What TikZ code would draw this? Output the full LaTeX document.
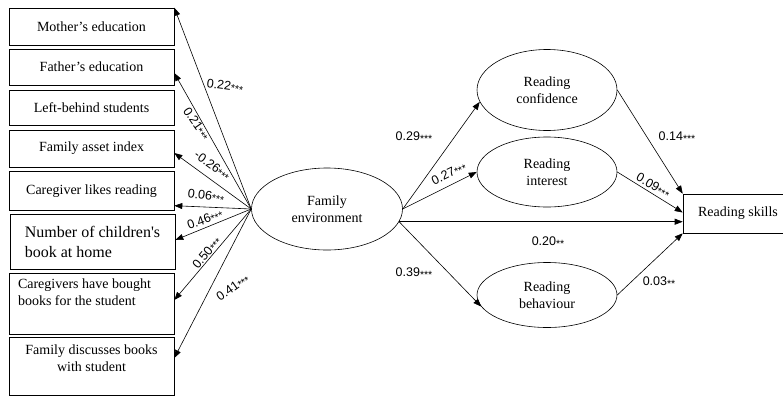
\documentclass[tikz,border=0pt]{standalone}
\usepackage{fontspec}
\setmainfont{Liberation Serif}
\setsansfont{Liberation Sans}
\usetikzlibrary{shapes,arrows.meta}
\newcommand{\sig}[1]{{\fontsize{10.5}{10}\selectfont\raisebox{-1.5pt}{#1}}}

\begin{document}
\begin{tikzpicture}[x=1pt,y=-1pt,>={Triangle[length=8pt,width=6pt]},font=\fontsize{14}{17}\selectfont,line width=0.6pt]
\tikzstyle{var}=[rectangle,draw,inner sep=0pt,minimum width=165pt,align=center]
\tikzstyle{latent}=[ellipse,draw,inner sep=0pt,align=center]
\tikzstyle{coef}=[font=\sffamily\fontsize{12.5}{12}\selectfont,inner sep=0pt]
\useasboundingbox (0,0) rectangle (783,396);

\node[var,minimum height=37pt](mom) at (91.5,26.5) {Mother’s education};
\node[var,minimum height=36pt](dad) at (91.5,67) {Father’s education};
\node[var,minimum height=35pt](left) at (91.5,107.5) {Left-behind students};
\node[var,minimum height=37pt](asset) at (91.5,148.5) {Family asset index};
\node[var,minimum height=39.5pt](cgr) at (91.5,190.7) {Caregiver likes reading};
\node[var,minimum height=55pt,align=left,font=\fontsize{16}{20}\selectfont](books) at (92.5,241.5) {Number of children\textquotesingle s\\book at home};
\node[var,minimum height=61pt,label={[anchor=north west,align=left,inner sep=0pt,xshift=9pt,yshift=-6pt]north west:Caregivers have bought\\books for the student}](bought) at (91.5,303.5) {};
\node[var,minimum height=58pt,label={[anchor=north,align=center,inner sep=0pt,yshift=-8pt]north:Family discusses books\\with student}](discuss) at (91.5,366) {};

\node[latent,minimum width=151pt,minimum height=82pt](fe) at (327,209) {Family\\environment};
\node[latent,minimum width=140pt,minimum height=81pt](conf) at (547,90) {Reading\\confidence};
\node[latent,minimum width=140pt,minimum height=70pt](inter) at (547,172) {Reading\\interest};
\node[latent,minimum width=140pt,minimum height=65pt](behav) at (547,295) {Reading\\behaviour};
\node[var,minimum width=110pt,minimum height=39pt](skills) at (738,213.5) {Reading skills};

\draw[->] (fe.west) -- (mom.north east);
\draw[->] (fe.west) -- ([yshift=-6pt]dad.east);
\draw[->] (fe.west) -- ([yshift=-4.5pt]asset.east);
\draw[->] (fe.west) -- ([yshift=-15pt]cgr.east);
\draw[->] (fe.west) -- ([yshift=1.5pt]books.east);
\draw[->] (fe.west) -- ([yshift=3.5pt]bought.east);
\draw[->] (fe.west) -- ([yshift=8pt]discuss.east);

\draw[->] (fe.east) -- (conf.190);
\draw[->] (fe.east) -- (inter.west);
\draw[->] (fe.-10) -- (fe.-10 -| skills.west);
\draw[->] (fe.-10) -- (behav.190);
\draw[->] (conf.east) -- (skills.north west);
\draw[->] (inter.east) -- ([yshift=1pt]skills.west);
\draw[->] (behav.east) -- (skills.south west);

\node[coef,rotate=-8](c1) at (225,86) {0.22\sig{***}};
\node[coef,rotate=-55](c2) at (196,124) {0.21\sig{***}};
\node[coef,rotate=-36](c3) at (212,166) {-0.26\sig{***}};
\node[coef,rotate=-8](c4) at (206,196) {0.06\sig{***}};
\node[coef,rotate=20](c5) at (205,220) {0.46\sig{***}};
\node[coef,rotate=50](c6) at (207,253) {0.50\sig{***}};
\node[coef,rotate=35](c7) at (233,288) {0.41\sig{***}};

\node[coef](c8) at (414,137) {0.29\sig{***}};
\node[coef,rotate=26](c9) at (449,174) {0.27\sig{***}};
\node[coef](c10) at (414,273) {0.39\sig{***}};
\node[coef](c11) at (548,242) {0.20\sig{**}};
\node[coef](c12) at (677,137) {0.14\sig{***}};
\node[coef,rotate=-30](c13) at (653,186) {0.09\sig{***}};
\node[coef](c14) at (659,282) {0.03\sig{**}};
\end{tikzpicture}
\end{document}
